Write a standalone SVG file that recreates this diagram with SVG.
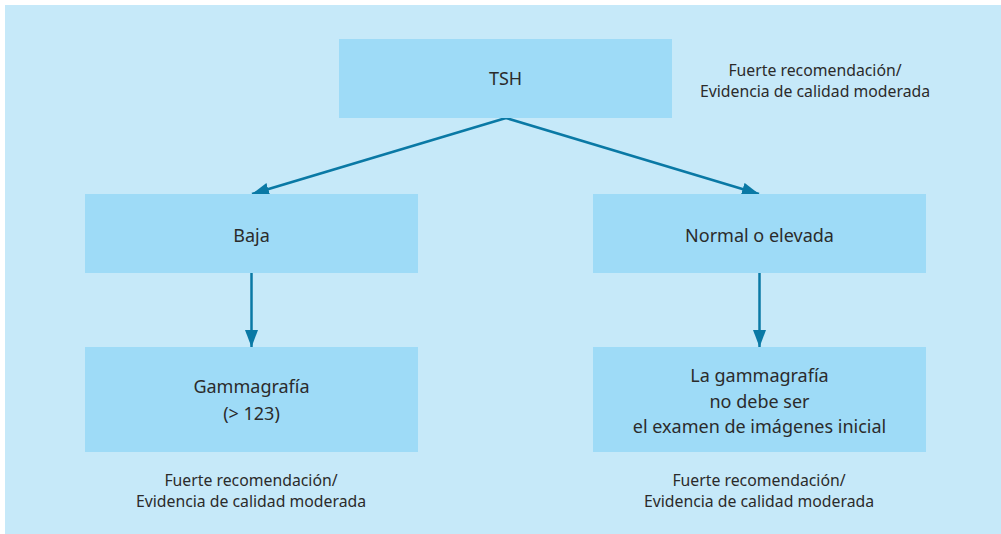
<svg xmlns="http://www.w3.org/2000/svg" width="1001" height="534" viewBox="0 0 1001 534">
<style>
.bg{fill:#c6e9f9}
.box{fill:#9edbf7}
.t{font-family:"Noto Sans","Open Sans",sans-serif;font-size:18px;fill:#2b2b2b;text-anchor:middle}
.n{font-family:"Noto Sans","Open Sans",sans-serif;font-size:15.8px;fill:#2b2b2b;text-anchor:middle}
.c{stroke:#0a79a5;stroke-width:2.5;fill:none}
</style>
<defs>
<marker id="ah" markerUnits="userSpaceOnUse" markerWidth="18" markerHeight="14" refX="17" refY="6.5" orient="auto">
<path d="M0,0 L17,6.5 L0,13 Z" fill="#0a79a5"/>
</marker>
</defs>
<rect class="bg" x="5" y="5" width="996" height="529"/>
<g id="connectors">
<path class="c" d="M506,118 L252,194" marker-end="url(#ah)"/>
<path class="c" d="M506,118 L759,194" marker-end="url(#ah)"/>
<path class="c" d="M251.5,273 L251.5,347" marker-end="url(#ah)"/>
<path class="c" d="M759.5,273 L759.5,347" marker-end="url(#ah)"/>
</g>
<g id="tsh">
<rect class="box" x="339" y="39" width="333" height="79"/>
<text class="t" x="505.5" y="85">TSH</text>
</g>
<g id="note-top">
<text class="n" x="815" y="76">Fuerte recomendación/</text>
<text class="n" x="815" y="97">Evidencia de calidad moderada</text>
</g>
<g id="baja">
<rect class="box" x="85" y="194" width="333" height="79"/>
<text class="t" x="251.5" y="242">Baja</text>
</g>
<g id="normal">
<rect class="box" x="593" y="194" width="333" height="79"/>
<text class="t" x="759.5" y="242">Normal o elevada</text>
</g>
<g id="gamma">
<rect class="box" x="85" y="347" width="333" height="105"/>
<text class="t" x="251.5" y="393">Gammagrafía</text>
<text class="t" x="251.5" y="420">(&gt; 123)</text>
</g>
<g id="nogamma">
<rect class="box" x="593" y="347" width="333" height="105"/>
<text class="t" x="759.5" y="382">La gammagrafía</text>
<text class="t" x="759.5" y="408">no debe ser</text>
<text class="t" x="759.5" y="433">el examen de imágenes inicial</text>
</g>
<g id="note-left">
<text class="n" x="251" y="486">Fuerte recomendación/</text>
<text class="n" x="251" y="507">Evidencia de calidad moderada</text>
</g>
<g id="note-right">
<text class="n" x="759" y="486">Fuerte recomendación/</text>
<text class="n" x="759" y="507">Evidencia de calidad moderada</text>
</g>
</svg>
